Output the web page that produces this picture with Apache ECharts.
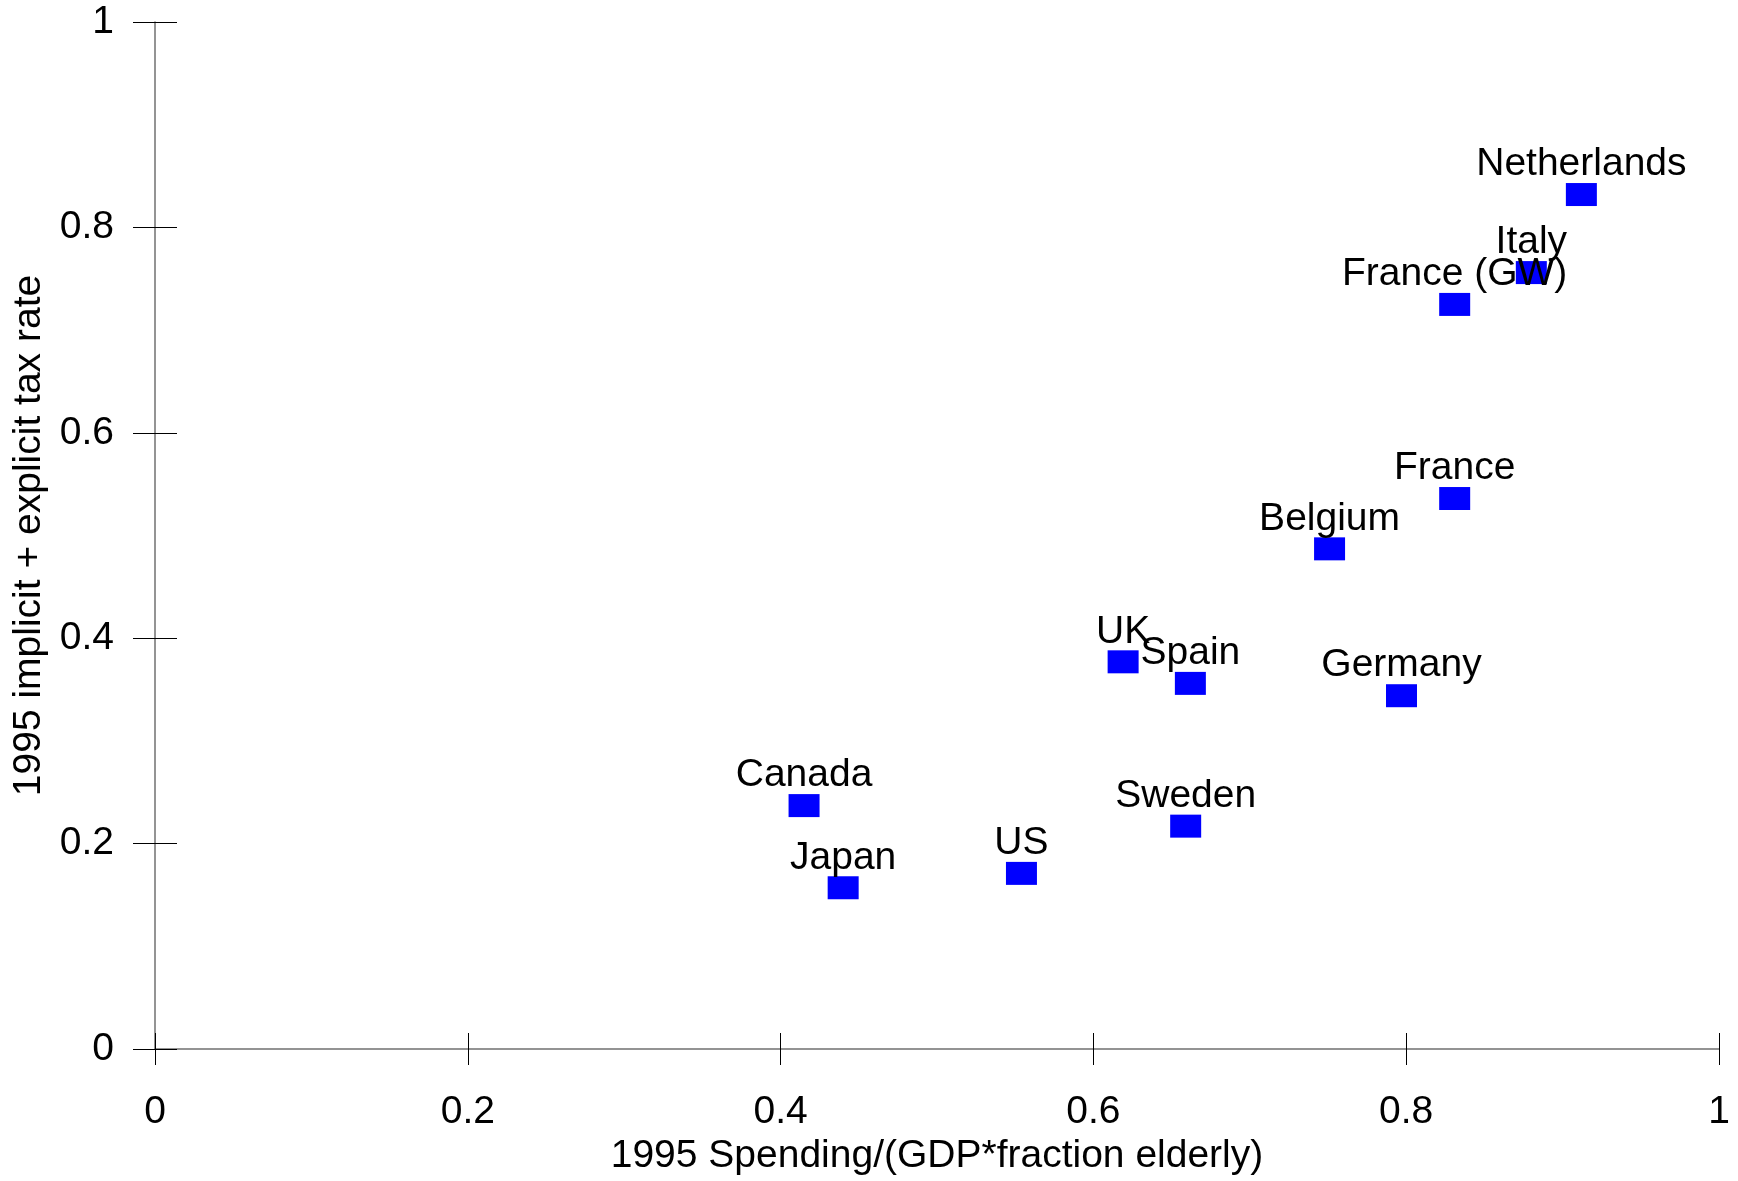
<!DOCTYPE html>
<html>
<head>
<meta charset="utf-8">
<script src="https://cdn.jsdelivr.net/npm/echarts@6/dist/echarts.min.js"></script>
<style>
html,body{margin:0;padding:0;background:#fff;}
#chart{width:1738px;height:1181px;}
</style>
</head>
<body>
<div id="chart"></div>
<script>
const countries = ['Netherlands','Italy','France (GW)','France','Belgium','Germany','UK','Spain','Sweden','Canada','Japan','US'];
const spending = [0.912, 0.880, 0.831, 0.831, 0.751, 0.797, 0.619, 0.662, 0.659, 0.415, 0.440, 0.554];
const taxRate = [0.832, 0.756, 0.725, 0.536, 0.487, 0.344, 0.377, 0.356, 0.217, 0.237, 0.157, 0.171];
const xTicks = [0, 0.2, 0.4, 0.6, 0.8, 1];
const yTicks = [0, 0.2, 0.4, 0.6, 0.8, 1];
const xTitle = '1995 Spending/(GDP*fraction elderly)';
const yTitle = '1995 implicit + explicit tax rate';

const FONT = '"Liberation Sans", Arial, sans-serif';
const FS = 39;
const points = countries.map((c, i) => ({ name: c, value: [spending[i], taxRate[i]] }));
const fmt = v => String(Math.round(v * 10) / 10);

const chart = echarts.init(document.getElementById('chart'), null, { renderer: 'canvas' });
const axisLineStyle = { color: '#707070', width: 1.5 };
const tickStyle = { color: '#000', width: 1 };

chart.setOption({
  backgroundColor: '#fff',
  animation: false,
  grid: { left: 155, right: 19, top: 22, bottom: 131, containLabel: false },
  xAxis: [
    {
      type: 'value', min: xTicks[0], max: xTicks[xTicks.length - 1], interval: 0.2, position: 'bottom',
      name: xTitle, nameLocation: 'middle', nameGap: 88,
      nameTextStyle: { fontFamily: FONT, fontSize: FS, color: '#000' },
      axisLine: { show: true, onZero: false, lineStyle: axisLineStyle },
      axisTick: { show: true, length: 16, inside: false, lineStyle: tickStyle },
      axisLabel: { show: true, margin: 44, fontFamily: FONT, fontSize: FS, color: '#000', formatter: fmt },
      splitLine: { show: false }
    },
    {
      type: 'value', min: xTicks[0], max: xTicks[xTicks.length - 1], interval: 0.2, position: 'bottom',
      axisLine: { show: false, onZero: false },
      axisTick: { show: true, length: 16, inside: true, lineStyle: tickStyle },
      axisLabel: { show: false },
      splitLine: { show: false }
    }
  ],
  yAxis: [
    {
      type: 'value', min: yTicks[0], max: yTicks[yTicks.length - 1], interval: 0.2, position: 'left',
      name: yTitle, nameLocation: 'middle', nameGap: 85,
      nameTextStyle: { fontFamily: FONT, fontSize: FS, color: '#000' },
      axisLine: { show: true, onZero: false, lineStyle: axisLineStyle },
      axisTick: { show: true, length: 22, inside: false, lineStyle: tickStyle },
      axisLabel: { show: true, margin: 41, padding: [5, 0, 0, 0], fontFamily: FONT, fontSize: FS, color: '#000', formatter: fmt },
      splitLine: { show: false }
    },
    {
      type: 'value', min: yTicks[0], max: yTicks[yTicks.length - 1], interval: 0.2, position: 'left',
      axisLine: { show: false, onZero: false },
      axisTick: { show: true, length: 22, inside: true, lineStyle: tickStyle },
      axisLabel: { show: false },
      splitLine: { show: false }
    }
  ],
  series: [
    {
      type: 'scatter',
      xAxisIndex: 0, yAxisIndex: 0,
      symbol: 'rect',
      symbolSize: [31, 23],
      itemStyle: { color: '#0000ff', opacity: 1 },
      label: {
        show: true, position: 'top', distance: -1,
        formatter: '{b}', fontFamily: FONT, fontSize: FS, color: '#000'
      },
      emphasis: { disabled: true },
      data: points
    }
  ]
});
</script>
</body>
</html>
